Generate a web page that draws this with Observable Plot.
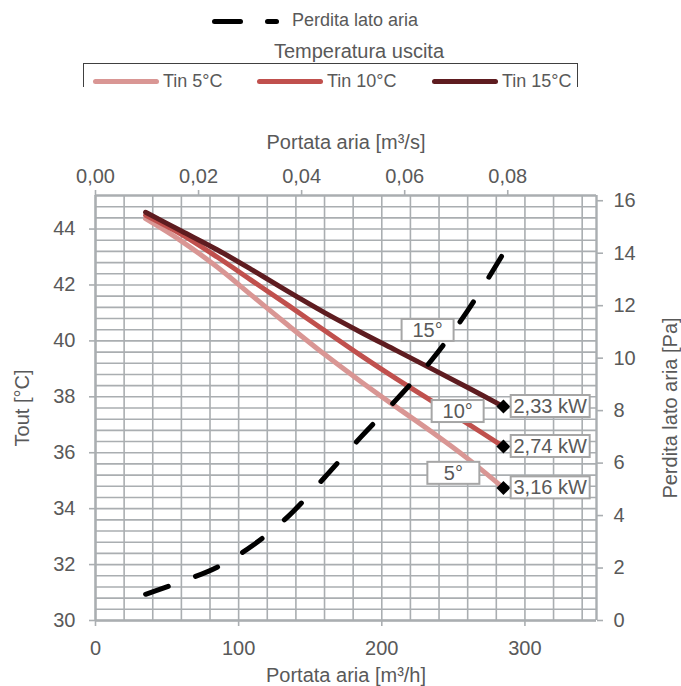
<!DOCTYPE html>
<html><head><meta charset="utf-8">
<script src="https://cdn.jsdelivr.net/npm/d3@7"></script>
<script src="https://cdn.jsdelivr.net/npm/@observablehq/plot@0.6"></script>
<style>
body{margin:0;background:#fff;font-family:"Liberation Sans",Arial,sans-serif;color:#595959}
#wrap{position:relative;width:681px;height:686px;overflow:hidden}
#legend{position:relative;width:681px;height:100px}
#legend .t{position:absolute;white-space:nowrap;line-height:1;}
#legend .sw{position:absolute;height:5px;border-radius:2.5px}
#legend .bx{position:absolute;background:#404040}
</style></head><body>
<div id="wrap"><div id="legend"></div><div id="chart"></div></div>
<script>
// Data (x: Portata aria m³/h)
const flow = [35, 60, 85, 110, 135, 160, 185, 210, 235, 260, 285];
const tin5  = [44.37, 43.57, 42.64, 41.59, 40.54, 39.52, 38.56, 37.64, 36.74, 35.79, 34.74];
const tin10 = [44.49, 43.81, 43.00, 42.13, 41.26, 40.37, 39.49, 38.65, 37.85, 37.04, 36.22];
const tin15 = [44.60, 43.93, 43.26, 42.52, 41.75, 41.01, 40.32, 39.66, 39.00, 38.33, 37.65];
const perdita = [1.00, 1.48, 2.03, 2.87, 3.99, 5.45, 6.97, 8.41, 9.94, 11.81, 14.00];
const seriesNames = ["Tin 5°C", "Tin 10°C", "Tin 15°C"];
const seriesColors = ["#d99694", "#c0504d", "#5e1c20"];
const powerLabels = ["3,16 kW", "2,74 kW", "2,33 kW"];
const degreeLabels = ["5°", "10°", "15°"];
const degreeLabelX = [250, 253, 232];
const degreeLabelY = [35.26, 37.47, 40.37];
const bottomTicks = [0, 100, 200, 300];
const topTicks = [0, 0.02, 0.04, 0.06, 0.08];
const leftTicks = [30, 32, 34, 36, 38, 40, 42, 44];
const rightTicks = [0, 2, 4, 6, 8, 10, 12, 14, 16];
const xMax = 350, yMin = 30, yMax = 45.2, pMax = 16.2;

const toT = p => yMin + p * (yMax - yMin) / pMax;
const toP = t => (t - yMin) * pMax / (yMax - yMin);
const allSeries = [tin5, tin10, tin15];

// Legend (HTML above the SVG)
const lg = document.getElementById("legend");
function add(cls, css, text) {
  const e = document.createElement("div");
  e.className = cls; Object.assign(e.style, css);
  if (text) e.textContent = text;
  lg.appendChild(e); return e;
}
add("sw", {left:"212px", top:"18.5px", width:"31px", background:"#000"});
add("sw", {left:"265px", top:"18.5px", width:"14px", background:"#000"});
add("t", {left:"292px", top:"11px", fontSize:"18px"}, "Perdita lato aria");
add("t", {left:"359px", top:"41px", fontSize:"20px", transform:"translateX(-50%)"}, "Temperatura uscita");
add("bx", {left:"83px", top:"63px", width:"495px", height:"1.3px"});
add("bx", {left:"83px", top:"63px", width:"1.3px", height:"24px"});
add("bx", {left:"577px", top:"63px", width:"1.3px", height:"24px"});
const itemX = [[93, 163], [257, 327], [432, 502]];
seriesNames.forEach((n, i) => {
  add("sw", {left: itemX[i][0] + "px", top: "78.5px", width: "66px", background: seriesColors[i]});
  add("t", {left: itemX[i][1] + "px", top: "72px", fontSize: "18px"}, n);
});

const ends = allSeries.map((s, i) => ({f: flow[flow.length - 1], t: s[s.length - 1], label: powerLabels[i]}));
const degData = degreeLabels.map((d, i) => ({x: degreeLabelX[i], y: degreeLabelY[i], label: d}));
const loss = flow.map((f, i) => ({f, p: perdita[i]}));
const gridX = d3.range(0, xMax, 20);
const gridY = d3.range(0, 38).map(i => yMin + i * 0.4);
const gridC = "#aaaeb1";

const marks = [
  Plot.ruleX(gridX, {stroke: gridC, strokeWidth: 1.6}),
  Plot.ruleY(gridY, {stroke: gridC, strokeWidth: 1.6}),
  Plot.ruleX([0, xMax], {stroke: gridC, strokeWidth: 2.4}),
  Plot.ruleY([yMin, yMax], {stroke: gridC, strokeWidth: 2.4}),
  Plot.axisX(bottomTicks, {anchor: "bottom", tickSize: 6, tickPadding: 14, stroke: gridC, strokeWidth: 1.6,
    label: "Portata aria [m³/h]", labelAnchor: "center", labelOffset: 61, labelArrow: "none"}),
  Plot.axisX(topTicks.map(v => v * 3600), {anchor: "top", tickSize: 6, tickPadding: 7, stroke: gridC, strokeWidth: 1.6,
    tickFormat: d => (d / 3600).toFixed(2).replace(".", ","),
    label: "Portata aria [m³/s]", labelAnchor: "center", labelOffset: 61, labelArrow: "none"}),
  Plot.axisY(leftTicks, {anchor: "left", tickSize: 6, tickPadding: 14, stroke: gridC, strokeWidth: 1.6,
    label: "Tout [°C]", labelAnchor: "center", labelOffset: 81, labelArrow: "none"}),
  Plot.axisY(rightTicks.map(toT), {anchor: "right", tickSize: 6, tickPadding: 11, stroke: gridC, strokeWidth: 1.6,
    tickFormat: d => String(Math.round(toP(d))),
    label: "Perdita lato aria [Pa]", labelAnchor: "center", labelOffset: 80, labelArrow: "none"}),
];
allSeries.forEach((s, i) => {
  marks.push(Plot.line(flow.map((f, j) => ({f, t: s[j]})), {x: "f", y: "t", stroke: seriesColors[i], strokeWidth: 5, curve: "catmull-rom"}));
});
marks.push(
  Plot.line(loss, {x: "f", y: d => toT(d.p), stroke: "#000", strokeWidth: 5, strokeDasharray: "24,29", strokeLinecap: "round", curve: "catmull-rom"}),
  Plot.dot(ends, {x: "f", y: "t", symbol: "diamond2", r: 6.3, fill: "#000"}),
  Plot.text(ends, {x: "f", y: "t", text: "label", textAnchor: "start", dx: 10, fontSize: 20, fill: "#595959"}),
  Plot.text(degData, {x: "x", y: "y", text: "label", fontSize: 20, fill: "#595959"})
);

const chart = Plot.plot({
  width: 681, height: 586,
  marginTop: 95, marginBottom: 66, marginLeft: 95, marginRight: 85,
  x: {domain: [0, xMax]},
  y: {domain: [yMin, yMax]},
  style: {fontFamily: "Liberation Sans, Arial, sans-serif", fontSize: "20px", color: "#595959", background: "white", overflow: "visible"},
  marks
});
document.getElementById("chart").appendChild(chart);

// white boxes with gray border behind the data labels (kW labels, then degree labels)
const NS = "http://www.w3.org/2000/svg";
const textGroups = chart.querySelectorAll('g[aria-label="text"]');
const boxWidths = [79, 52];
textGroups.forEach((g, gi) => {
  const w = boxWidths[gi] || 52;
  g.querySelectorAll("text").forEach(t => {
    const b = t.getBBox();
    const cx = b.x + b.width / 2, cy = b.y + b.height / 2;
    const r = document.createElementNS(NS, "rect");
    r.setAttribute("x", cx - w / 2); r.setAttribute("y", cy - 11);
    r.setAttribute("width", w); r.setAttribute("height", 22);
    r.setAttribute("fill", "white"); r.setAttribute("stroke", "#a6a6a6"); r.setAttribute("stroke-width", 2);
    if (t.getAttribute("transform")) r.setAttribute("transform", t.getAttribute("transform"));
    g.insertBefore(r, t);
  });
});
</script>
</body></html>
